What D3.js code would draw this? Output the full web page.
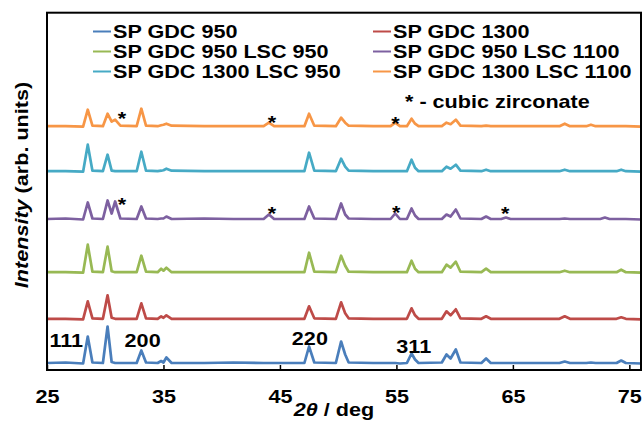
<!DOCTYPE html>
<html>
<head>
<meta charset="utf-8">
<script src="https://cdn.jsdelivr.net/npm/d3@7"></script>
<style>
body { margin: 0; background: #fff; }
text { font-family: "Liberation Sans", Arial, sans-serif; font-weight: bold; fill: #000; }
</style>
</head>
<body>
<script>
//=================================================
// data
//=================================================
// 2theta (deg) where every pattern is sampled
var angles = [25.0, 26.6, 28.1, 28.5, 28.9, 29.8, 30.2, 30.55, 30.85, 31.3,
    32.7, 33.1, 33.5, 34.5, 34.8, 35.0, 35.25, 35.7, 38.5, 41.0,
    43.6, 44.05, 44.5, 47.1, 47.5, 47.95, 49.8, 50.25, 50.6, 50.9,
    53.0, 54.5, 54.9, 55.3, 55.9, 56.3, 56.6, 56.9, 58.9, 59.3,
    59.65, 60.1, 60.5, 62.3, 62.7, 63.1, 64.0, 64.4, 64.8, 66.5,
    69.0, 69.45, 69.9, 71.3, 71.7, 72.1, 72.5, 72.9, 73.3, 73.9,
    74.3, 74.7, 76.0];

var seriesNames = ["SP GDC 950", "SP GDC 1300", "SP GDC 950 LSC 950",
    "SP GDC 950 LSC 1100", "SP GDC 1300 LSC 950", "SP GDC 1300 LSC 1100"];
var seriesColors = ["#4a7ebb", "#be4b48", "#98b954", "#7d60a0", "#46aac5", "#f79646"];
// vertical offset of every pattern in the stack (arb. units)
var offsets = [6.5, 50.7, 97.3, 150.5, 198.3, 243.3];

var gdc950 = [0.5, 1, 0, 27, 1, 0.5, 37, 1.5, 0.5, 0.5,
    0.5, 13, 1, 0.5, 2.5, 1, 6, 0.5, 0.5, 1,
    0.5, 0.5, 0.5, 0.5, 17, 1, 0.5, 22, 9, 1,
    0.5, 0.5, 0.5, 0, 0.5, 10, 4, 0.5, 1, 9,
    5, 14, 1, 0.5, 5, 0.5, 0.5, 0.5, 0.5, 0.5,
    0.5, 2, 0.5, 0.5, 1, 0.5, 0.5, 0.5, 0.5, 0.5,
    3, 0.5, 0];
var gdc1300 = [0.5, 0.5, 0, 18, 1, 0.5, 24, 1.5, 0.5, 0.5,
    0.5, 16, 1, 0.5, 3, 1.5, 4, 0.5, 0.5, 0.5,
    0.5, 0.5, 0.5, 0.5, 13, 1, 0.5, 17, 6, 1,
    0.5, 0.5, 0.5, 0.5, 0.5, 11, 4, 0.5, 0.5, 8,
    4, 10, 1, 0.5, 3, 0.5, 0.5, 0.5, 0.5, 0.5,
    0.5, 3, 0.5, 0.5, 0.5, 0.5, 0.5, 0.5, 0.5, 0.5,
    2, 0.5, 0];
var gdc950lsc950 = [0.5, 0.5, 0, 28, 1, 0.5, 26, 1.5, 0.5, 0.5,
    0.5, 17, 1, 0.5, 4, 2, 5, 0.5, 0.5, 0.5,
    0.5, 0.5, 0.5, 0.5, 20, 1, 0.5, 17, 7, 1,
    0.5, 0.5, 0.5, 0.5, 0.5, 12, 4, 0.5, 0.5, 8,
    5, 11, 1, 0.5, 4, 0.5, 0.5, 0.5, 0.5, 0.5,
    0.5, 2, 0.5, 0.5, 0.5, 0.5, 0.5, 0.5, 0.5, 0.5,
    3, 0.5, 0];
var gdc950lsc1100 = [0.5, 1, 0, 17, 1, 0.5, 19, 6, 18, 1,
    0.5, 13, 1, 0.5, 1, 1, 3, 0.5, 1, 0.5,
    0.5, 5, 0.5, 0.5, 13, 1, 0.5, 16, 5, 1,
    0.5, 0.5, 6, 0.5, 0.5, 11, 4, 0.5, 0.5, 5,
    3, 10, 1, 0.5, 3, 0.5, 0.5, 2, 0.5, 0.5,
    0.5, 1, 0.5, 0.5, 0.5, 0.5, 0.5, 2, 0.5, 0.5,
    0.5, 0.5, 0];
var gdc1300lsc950 = [0.5, 0.5, 0, 27, 1, 0.5, 17, 1, 0.5, 0.5,
    0.5, 20, 1, 0.5, 1, 1.5, 3, 1, 0.5, 0.5,
    0.5, 0.5, 0.5, 0.5, 19, 1, 0.5, 13, 5, 1,
    0.5, 0.5, 0.5, 0.5, 0.5, 12, 4, 0.5, 0.5, 5,
    3, 7, 1, 0.5, 2, 0.5, 0.5, 0.5, 0.5, 0.5,
    0.5, 2, 0.5, 0.5, 0.5, 0.5, 0.5, 0.5, 0.5, 0.5,
    2, 0.5, 0];
var gdc1300lsc1100 = [0.5, 0.5, 0, 17, 1, 0.5, 13, 5, 7, 1,
    0.5, 18, 1, 0.5, 1.5, 2, 3, 1, 0.5, 0.5,
    0.5, 4, 0.5, 0.5, 13, 1, 0.5, 9, 4, 1,
    0.5, 0.5, 4, 0.5, 0.5, 8, 3, 0.5, 0.5, 4,
    2.5, 7, 1, 0.5, 1, 0.5, 0.5, 0.5, 0.5, 0.5,
    0.5, 3, 0.5, 0.5, 2, 0.5, 0.5, 0.5, 0.5, 0.5,
    0.5, 0.5, 0];
var seriesValues = [gdc950, gdc1300, gdc950lsc950, gdc950lsc1100, gdc1300lsc950, gdc1300lsc1100];

// cubic zirconate markers: which pattern, 2theta, height above that pattern's baseline
var starSeries = [5, 5, 5, 3, 3, 3, 3];
var starAngles = [31.43, 44.31, 54.92, 31.43, 44.31, 54.98, 64.35];
var starHeights = [11.7, 7.7, 6.7, 19, 10, 11, 10];

// fluorite reflections labelled on the bottom pattern
var hklLabels = ["111", "200", "220", "311"];
var hklAngles = [26.65, 33.21, 47.57, 56.49];
var hklLevels = [23, 23, 25, 17];

var xTicks = [25, 35, 45, 55, 65, 75];

//=================================================
// svg + scales
//=================================================
var W = 643, H = 422;
var plot = { left: 47, right: 641, top: 12.7, bottom: 370 };
var wide = "scale(1.2,1)"; // the figure's lettering is set wide

var svg = d3.select("body").append("svg")
    .attr("width", W)
    .attr("height", H);

var x = d3.scaleLinear().domain([25, 76]).range([plot.left, plot.right]);
var y = d3.scaleLinear().domain([0, 357.3]).range([plot.bottom, plot.top]);

//=================================================
// patterns
//=================================================
seriesValues.forEach(function (vals, i) {
    var pts = angles.map(function (a, k) { return [a, vals[k] + offsets[i]]; });
    var line = d3.line()
        .x(function (d) { return x(d[0]); })
        .y(function (d) { return y(d[1]); });
    svg.append("path")
        .datum(pts)
        .attr("fill", "none")
        .attr("stroke", seriesColors[i])
        .attr("stroke-width", 2.7)
        .attr("stroke-linejoin", "round")
        .attr("d", line);
});

// asterisks
svg.selectAll(".star")
    .data(starAngles)
    .enter().append("text")
    .attr("class", "star")
    .attr("text-anchor", "middle")
    .attr("font-size", 18)
    .attr("transform", function (d, i) {
        var yy = y(offsets[starSeries[i]] + starHeights[i]) + 10.3;
        return "translate(" + x(d) + "," + yy + ") " + wide;
    })
    .text("*");

// hkl labels
svg.selectAll(".hkl")
    .data(hklLabels)
    .enter().append("text")
    .attr("class", "hkl")
    .attr("text-anchor", "middle")
    .attr("font-size", 18)
    .attr("transform", function (d, i) {
        return "translate(" + x(hklAngles[i]) + "," + y(hklLevels[i]) + ") " + wide;
    })
    .text(function (d) { return d; });

//=================================================
// frame + axis
//=================================================
svg.append("rect")
    .attr("x", plot.left)
    .attr("y", plot.top)
    .attr("width", plot.right - plot.left)
    .attr("height", plot.bottom - plot.top)
    .attr("fill", "none")
    .attr("stroke", "#000")
    .attr("stroke-width", 2);

var xAxis = svg.append("g")
    .attr("transform", "translate(0," + plot.bottom + ")")
    .call(d3.axisBottom(x)
        .tickValues(xTicks)
        .tickSize(-5)
        .tickPadding(20));
xAxis.select(".domain").remove();
xAxis.selectAll("line").attr("stroke", "#000").attr("stroke-width", 1.5);
xAxis.selectAll("text")
    .attr("font-size", 18)
    .attr("font-family", null)
    .attr("fill", "#000")
    .attr("transform", wide);

// axis titles
var xTitle = svg.append("text")
    .attr("text-anchor", "middle")
    .attr("font-size", 18)
    .attr("transform", "translate(334,416) " + wide);
xTitle.append("tspan").attr("font-style", "italic").text("2θ");
xTitle.append("tspan").text(" / deg");

var yTitle = svg.append("text")
    .attr("text-anchor", "middle")
    .attr("font-size", 18)
    .attr("transform", "translate(28,185) rotate(-90) " + wide);
yTitle.append("tspan").attr("font-style", "italic").text("Intensity");
yTitle.append("tspan").text(" (arb. units)");

//=================================================
// legend
//=================================================
var legendCols = [93, 373];
var legend = svg.selectAll(".legend")
    .data(seriesNames)
    .enter().append("g")
    .attr("class", "legend")
    .attr("transform", function (d, i) {
        return "translate(" + legendCols[i % 2] + "," + (31.5 + Math.floor(i / 2) * 20) + ")";
    });

legend.append("line")
    .attr("x1", 0).attr("x2", 18)
    .attr("y1", 0).attr("y2", 0)
    .attr("stroke", function (d, i) { return seriesColors[i]; })
    .attr("stroke-width", 2);

legend.append("text")
    .attr("font-size", 18)
    .attr("transform", "translate(20,6.8) " + wide)
    .text(function (d) { return d; });

svg.append("text")
    .attr("font-size", 18)
    .attr("transform", "translate(405,108) " + wide)
    .text("* - cubic zirconate");
</script>
</body>
</html>
